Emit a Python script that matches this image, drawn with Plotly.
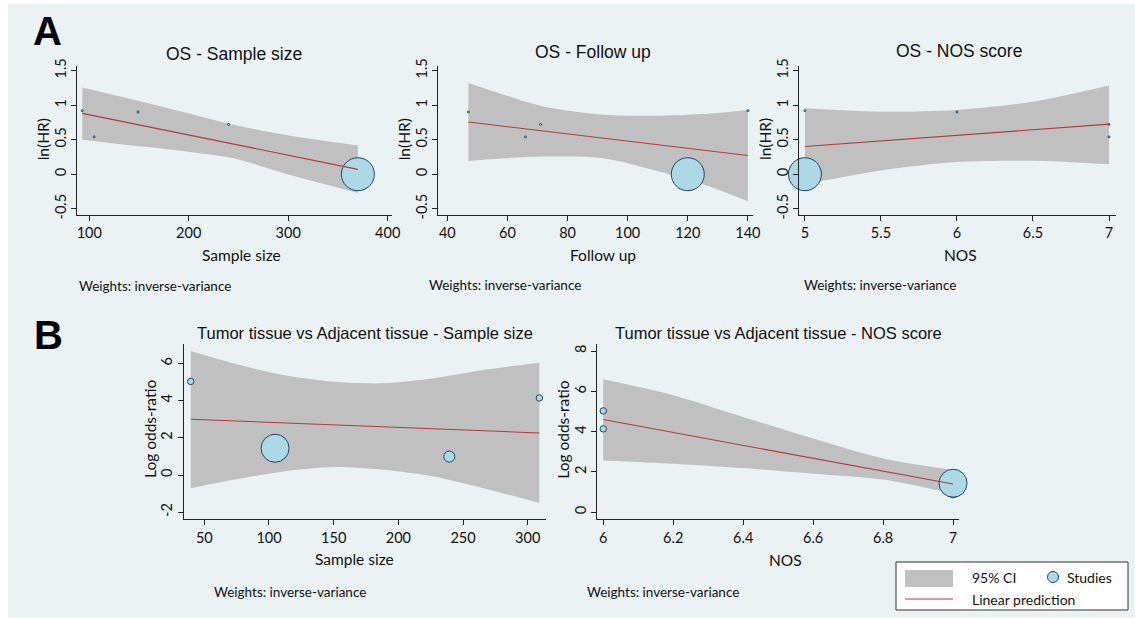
import math
import plotly.graph_objects as go

W, H = 1135, 618

# ---------------- DATA ----------------
# Panel A: OS (ln(HR)) meta-regression, 5 studies
os_lnhr = [0.92, 0.54, 0.90, 0.72, 0.00]
os_sample = [93, 105, 149, 240, 370]
os_follow = [140, 66, 47, 71, 120]
os_nos = [5, 7, 6, 7, 5]
os_weight = [1.0, 1.0, 1.0, 1.0, 270.0]

# fitted lines (endpoints) and 95% CI bands
a1_line_x = [93, 370]
a1_line_y = [0.88, 0.07]
a1_band_x = [93, 144, 198, 245, 302, 370]
a1_band_lo = [0.50, 0.415, 0.33, 0.23, -0.01, -0.27]
a1_band_hi = [1.255, 1.08, 0.885, 0.715, 0.555, 0.415]

a2_line_x = [47, 140]
a2_line_y = [0.755, 0.27]
a2_band_x = [47, 58.8, 72, 92, 108.5, 125, 140]
a2_band_lo = [0.19, 0.23, 0.255, 0.23, 0.06, -0.145, -0.39]
a2_band_hi = [1.32, 1.15, 0.98, 0.86, 0.845, 0.87, 0.93]

a3_line_x = [5, 7]
a3_line_y = [0.40, 0.725]
a3_band_x = [5, 5.52, 6, 6.5, 7]
a3_band_lo = [-0.145, 0.06, 0.175, 0.195, 0.145]
a3_band_hi = [0.955, 0.905, 0.93, 1.05, 1.285]

# Panel B: Tumor vs adjacent tissue (log odds-ratio), 4 studies
tt_logor = [5.03, 1.44, 0.99, 4.14]
tt_sample = [39.5, 104.7, 239.4, 309]
tt_nos = [6, 7, 7, 6]
tt_weight = [1.0, 18.5, 2.9, 1.0]

b1_line_x = [39.5, 309]
b1_line_y = [3.0, 2.26]
b1_band_x = [39.5, 72.5, 111, 150, 188.6, 227.3, 265.9, 309]
b1_band_lo = [-0.71, -0.26, 0.19, 0.43, 0.28, -0.08, -0.71, -1.51]
b1_band_hi = [6.66, 6.0, 5.37, 5.01, 4.93, 5.2, 5.64, 6.03]

b2_line_x = [6, 7]
b2_line_y = [4.6, 1.40]
b2_band_x = [6, 6.2, 6.4, 6.6, 6.8, 7]
b2_band_lo = [2.57, 2.41, 2.19, 1.91, 1.62, 0.91]
b2_band_hi = [6.6, 5.81, 4.73, 3.66, 2.67, 2.1]

# tick labels
a_yticks = [-0.5, 0, 0.5, 1, 1.5]
a_yticklabels = ["-0.5", "0", "0.5", "1", "1.5"]
a1_xticks = [100, 200, 300, 400]
a2_xticks = [40, 60, 80, 100, 120, 140]
a3_xticks = [5, 5.5, 6, 6.5, 7]
b1_xticks = [50, 100, 150, 200, 250, 300]
b1_yticks = [-2, 0, 2, 4, 6]
b1_yticklabels = ["-2", "0", "2", "4", "6"]
b2_xticks = [6, 6.2, 6.4, 6.6, 6.8, 7]
b2_yticks = [0, 2, 4, 6, 8]

titles = ["OS - Sample size", "OS - Follow up", "OS - NOS score",
          "Tumor tissue vs Adjacent tissue - Sample size",
          "Tumor tissue vs Adjacent tissue - NOS score"]
xtitles = ["Sample size", "Follow up", "NOS", "Sample size", "NOS"]
ytitles = ["ln(HR)", "ln(HR)", "ln(HR)", "Log odds-ratio", "Log odds-ratio"]
note_text = "Weights: inverse-variance"

# ---------------- STYLE ----------------
BG = "#EAF2F3"
BAND = "#C0C0C0"
LINE = "#B03A3A"
FILL = "#ADD8E6"
EDGE = "#1A476F"
AX = "#222222"
GRID = "#EAF2F3"
TXT = "Lato, 'Open Sans', sans-serif"
TTL = "'Liberation Sans', Arial, sans-serif"


def px(x):
    return x / W


def py(y):
    return 1 - y / H


fig = go.Figure()

panels = [
    dict(xd=(77.3, 391.7), yd=(65.7, 215), xr=(88, 404), yr=(-0.59, 1.57)),
    dict(xd=(438.3, 753), yd=(65.7, 215), xr=(37, 141.7), yr=(-0.59, 1.57)),
    dict(xd=(799.3, 1115.7), yd=(65.7, 215), xr=(4.963, 7.044), yr=(-0.59, 1.57)),
    dict(xd=(184, 545.7), yd=(344, 519.3), xr=(34.3, 313.9), yr=(-2.38, 7.04)),
    dict(xd=(597.3, 959), yd=(344, 519.3), xr=(5.983, 7.017), yr=(-0.35, 8.35)),
]

series = [
    (os_sample, os_lnhr, os_weight, 33, a1_band_x, a1_band_lo, a1_band_hi, a1_line_x, a1_line_y),
    (os_follow, os_lnhr, os_weight, 33, a2_band_x, a2_band_lo, a2_band_hi, a2_line_x, a2_line_y),
    (os_nos, os_lnhr, os_weight, 33, a3_band_x, a3_band_lo, a3_band_hi, a3_line_x, a3_line_y),
    (tt_sample, tt_logor, tt_weight, 28, b1_band_x, b1_band_lo, b1_band_hi, b1_line_x, b1_line_y),
    (tt_nos, tt_logor, tt_weight, 28, b2_band_x, b2_band_lo, b2_band_hi, b2_line_x, b2_line_y),
]

xticks_all = [a1_xticks, a2_xticks, a3_xticks, b1_xticks, b2_xticks]
yticks_all = [(a_yticks, a_yticklabels)] * 3 + [(b1_yticks, b1_yticklabels),
                                                 (b2_yticks, [str(v) for v in b2_yticks])]

for i, (p, s) in enumerate(zip(panels, series)):
    n = i + 1
    xa = "x" if n == 1 else f"x{n}"
    ya = "y" if n == 1 else f"y{n}"
    xs, ys, ws, dmax, bx, blo, bhi, lx, ly = s
    # CI band: lower edge, then upper edge filled down to it (smooth curves)
    fig.add_trace(go.Scatter(
        x=bx, y=blo, mode="lines", line=dict(width=0, shape="spline", smoothing=0.8),
        hoverinfo="skip", showlegend=False, xaxis=xa, yaxis=ya))
    fig.add_trace(go.Scatter(
        x=bx, y=bhi, mode="lines", fill="tonexty", fillcolor=BAND,
        line=dict(width=0, shape="spline", smoothing=0.8),
        hoverinfo="skip", showlegend=False, xaxis=xa, yaxis=ya))
    # studies (bubbles, area ~ weight); largest drawn last
    wmax = max(ws)
    sizes = [max(2.0, dmax * math.sqrt(w / wmax)) for w in ws]
    order = sorted(range(len(ws)), key=lambda k: ws[k])
    fig.add_trace(go.Scatter(
        x=[xs[k] for k in order], y=[ys[k] for k in order], mode="markers",
        marker=dict(size=[sizes[k] for k in order], color=FILL, opacity=1,
                    line=dict(color=EDGE, width=1)),
        cliponaxis=False, showlegend=False, xaxis=xa, yaxis=ya))
    # linear prediction
    fig.add_trace(go.Scatter(
        x=lx, y=ly, mode="lines", line=dict(color=LINE, width=1.1),
        showlegend=False, xaxis=xa, yaxis=ya))

    xkey = "xaxis" if n == 1 else f"xaxis{n}"
    ykey = "yaxis" if n == 1 else f"yaxis{n}"
    tv, tt = yticks_all[i]
    fig.update_layout(**{
        xkey: dict(domain=[px(p["xd"][0]), px(p["xd"][1])], anchor=ya,
                   range=list(p["xr"]), tickvals=xticks_all[i],
                   ticktext=[("%g" % v) for v in xticks_all[i]],
                   showline=True, linecolor=AX, linewidth=1, ticks="outside",
                   ticklen=5, tickcolor=AX, showgrid=False, zeroline=False,
                   automargin=False,
                   tickfont=dict(family=TXT, size=14.5, color="#111")),
        ykey: dict(domain=[py(p["yd"][1]), py(p["yd"][0])], anchor=xa,
                   range=list(p["yr"]), tickvals=tv, ticktext=tt,
                   tickangle=-90, showline=True, linecolor=AX, linewidth=1,
                   ticks="outside", ticklen=5, tickcolor=AX, showgrid=True,
                   gridcolor=GRID, gridwidth=1, zeroline=False,
                   automargin=False,
                   tickfont=dict(family=TXT, size=14.5, color="#111")),
    })

ann = []


def text(x, y, s, size, family=TXT, xanchor="center", angle=0, bold=False, color="#111"):
    ann.append(dict(x=px(x), y=py(y), xref="paper", yref="paper",
                    text=("<b>%s</b>" % s) if bold else s,
                    showarrow=False, xanchor=xanchor, yanchor="middle", textangle=angle,
                    font=dict(family=family, size=size, color=color)))


title_pos = [(234, 54, 17.5), (593.3, 51.5, 17.5), (958.7, 50.5, 17.5), (365, 333, 16.5), (778, 333, 16.5)]
for t, (x, y, sz) in zip(titles, title_pos):
    text(x, y, t, sz, family=TTL)
xt_pos = [(241.7, 255), (602.5, 255), (960.8, 255), (354.7, 559.3), (785, 560)]
for t, (x, y) in zip(xtitles, xt_pos):
    text(x, y, t, 15.5)
yt_pos = [(43.3, 139), (404.3, 139), (765, 139), (150, 429), (562.7, 430)]
for t, (x, y) in zip(ytitles, yt_pos):
    text(x, y, t, 15.5, angle=-90)
note_pos = [(77, 285.5), (427.3, 285), (801.7, 285), (211.7, 591.7), (585, 591.7)]
for (x, y) in note_pos:
    text(x, y, note_text, 13.5, xanchor="left")
text(47, 31, "A", 40, family="'Liberation Sans', Arial", bold=True, color="#000")
text(48, 335, "B", 40, family="'Liberation Sans', Arial", bold=True, color="#000")
text(970, 577, "95% CI", 14, xanchor="left")
text(1065, 577, "Studies", 14, xanchor="left")
text(970, 599, "Linear prediction", 14, xanchor="left")

shapes = [
    dict(type="rect", xref="paper", yref="paper", x0=px(8), x1=1, y0=0, y1=py(4),
         fillcolor=BG, line=dict(width=0), layer="below"),
    dict(type="rect", xref="paper", yref="paper", x0=px(896), x1=px(1128), y0=py(610), y1=py(562),
         fillcolor="#FFFFFF", line=dict(color="#333", width=1)),
    dict(type="rect", xref="paper", yref="paper", x0=px(905), x1=px(953), y0=py(587), y1=py(570),
         fillcolor=BAND, line=dict(width=0)),
    dict(type="line", xref="paper", yref="paper", x0=px(905), x1=px(953), y0=py(599), y1=py(599),
         line=dict(color=LINE, width=1.1)),
    dict(type="circle", xref="paper", yref="paper", x0=px(1047.5), x1=px(1058.5), y0=py(582.5), y1=py(571.5),
         fillcolor=FILL, line=dict(color=EDGE, width=1)),
]

fig.update_layout(template="none", width=W, height=H, margin=dict(l=0, r=0, t=0, b=0, autoexpand=False),
                  paper_bgcolor="#FFFFFF", plot_bgcolor="#FFFFFF",
                  annotations=ann, shapes=shapes, showlegend=False)

fig.write_html("out.html", config={"displayModeBar": False},
               post_script="document.body.style.margin='0';document.body.style.overflow='hidden';")
